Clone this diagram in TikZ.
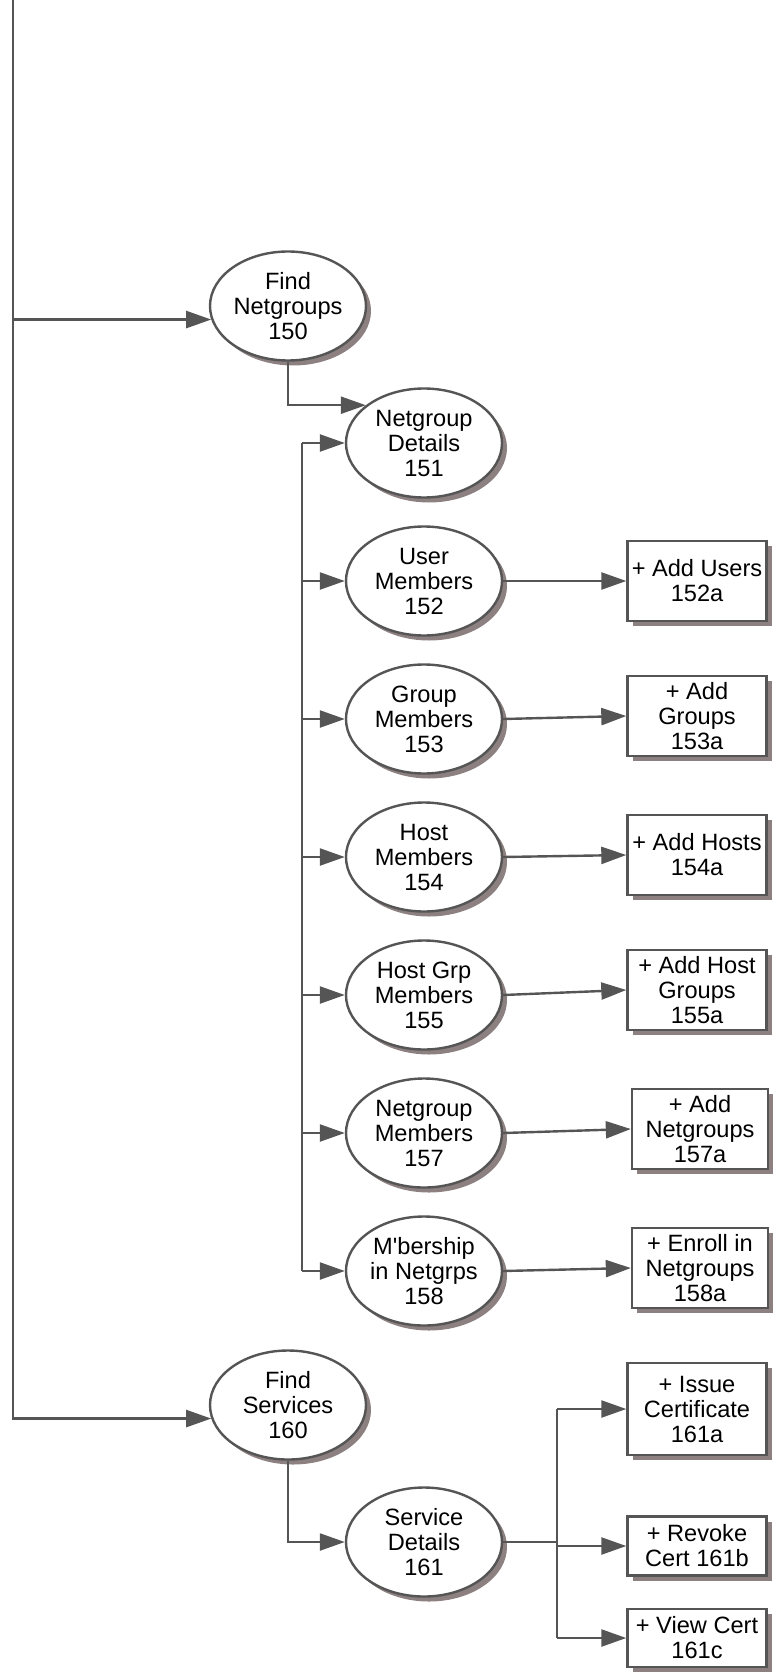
\documentclass[tikz,border=0pt]{standalone}
\usepackage{fontspec}
\setmainfont{Liberation Sans}
\usepackage{tikz}
\usetikzlibrary{arrows.meta, positioning, shapes.geometric, shadows}
\definecolor{linegray}{RGB}{85,85,85}
\definecolor{shadowgray}{RGB}{140,128,128}
\newcommand{\nodefont}{\fontsize{11.8pt}{12.5pt}\selectfont}

\begin{document}
\begin{tikzpicture}[x=0.5pt,y=-0.5pt,node distance=69pt,on grid,
    >={Triangle[length=12.5pt,width=8.5pt]}]
    \tikzstyle{viewnode}=[shape=ellipse,draw=linegray,line width=1.2pt,fill=white,
      minimum width=78pt,minimum height=54.5pt,inner sep=0pt,align=center,font=\nodefont,
      drop shadow={shadow xshift=2.5pt,shadow yshift=-2.5pt,fill=shadowgray,opacity=1}]
    \tikzstyle{actbox}=[shape=rectangle,draw=linegray,line width=1.2pt,fill=white,
      minimum width=69.5pt,minimum height=40pt,inner sep=1pt,align=center,font=\nodefont,
      drop shadow={shadow xshift=2.5pt,shadow yshift=-2.5pt,fill=shadowgray,opacity=1}]
    \tikzstyle{wire}=[draw=linegray,line width=1.2pt]
    \tikzstyle{flow}=[->,draw=linegray,line width=1.2pt]

    \useasboundingbox (0,0) rectangle (773,1674);

    \node[viewnode] (F150) at (288,306) {Find\\Netgroups\\150};
    \node[viewnode, below right=68.5pt and 68pt of F150] (D151) {Netgroup\\Details\\151};
    \node[viewnode, below=of D151] (M152) {User\\Members\\152};
    \node[viewnode, below=of M152] (M153) {Group\\Members\\153};
    \node[viewnode, below=of M153] (M154) {Host\\Members\\154};
    \node[viewnode, below=of M154] (M155) {Host Grp\\Members\\155};
    \node[viewnode, below=of M155] (M157) {Netgroup\\Members\\157};
    \node[viewnode, below=of M157] (M158) {M\textquotesingle bership\\in Netgrps\\158};

    \node[actbox, right=136.5pt of M152] (A152) {+ Add Users\\152a};
    \node[actbox, above right=1.5pt and 136.5pt of M153] (A153) {+ Add\\Groups\\153a};
    \node[actbox, above right=1pt and 136.5pt of M154] (A154) {+ Add Hosts\\154a};
    \node[actbox, above right=2.5pt and 136.5pt of M155] (A155) {+ Add Host\\Groups\\155a};
    \node[actbox, minimum width=68pt, above right=2pt and 138pt of M157] (A157) {+ Add\\Netgroups\\157a};
    \node[actbox, minimum width=68pt, above right=1.5pt and 138pt of M158] (A158) {+ Enroll in\\Netgroups\\158a};

    \node[viewnode] (F160) at (288,1405) {Find\\Services\\160};
    \node[viewnode, below right=68.5pt and 68pt of F160] (S161) {Service\\Details\\161};

    \node[actbox, minimum height=46pt, above right=66.5pt and 136.5pt of S161] (C161a) {+ Issue\\Certificate\\161a};
    \node[actbox, minimum height=29.5pt, below right=2pt and 136.5pt of S161] (C161b) {+ Revoke\\Cert 161b};
    \node[actbox, minimum height=29pt, below right=48pt and 136.5pt of S161] (C161c) {+ View Cert\\161c};

    \coordinate (top) at (13,0);
    \coordinate (nbus) at (302,0);
    \coordinate (sbus) at (557,0);

    % main trunk
    \draw[flow] (top) |- (F160.190);
    \draw[flow] (top |- F150.190) -- (F150.190);

    % netgroups branch
    \draw[flow] (F150.south) |- (D151.147);
    \draw[wire] (nbus |- D151.west) -- (nbus |- M158.west);
    \foreach \n in {D151,M152,M153,M154,M155,M157,M158}
      \draw[flow] (nbus |- \n.west) -- (\n.west);

    \path
    (M152.east) edge[flow] (A152.west)
    (M153.east) edge[flow] (A153.west)
    (M154.east) edge[flow] (A154.west)
    (M155.east) edge[flow] (A155.west)
    (M157.east) edge[flow] (A157.west)
    (M158.east) edge[flow] (A158.west)
    ;

    % services branch
    \draw[flow] (F160.south) |- (S161.west);
    \draw[wire] (S161.east) -- (sbus |- S161.east);
    \draw[wire] (sbus |- C161a.west) -- (sbus |- C161c.west);
    \foreach \n in {C161a,C161b,C161c}
      \draw[flow] (sbus |- \n.west) -- (\n.west);

\end{tikzpicture}
\end{document}
